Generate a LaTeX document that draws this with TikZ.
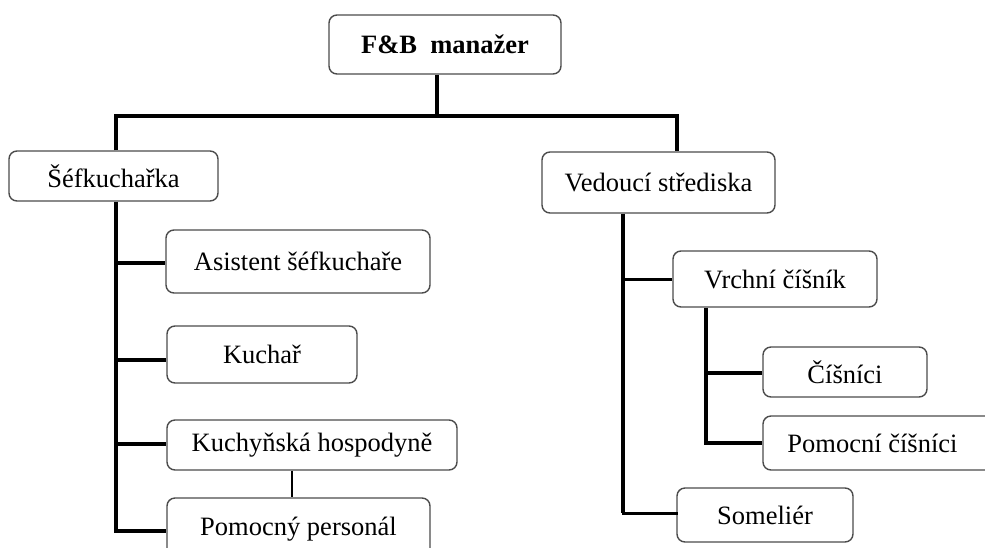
\documentclass[tikz,border=0pt]{standalone}
\usepackage{fontspec}
\setmainfont{Liberation Serif}
\begin{document}
\begin{tikzpicture}[x=1pt,y=-1pt,
  box/.style={draw=black!70,line width=1.4pt,rounded corners=8pt,fill=white,
    inner sep=0pt,font=\fontsize{26.5}{30}\selectfont},
  heavy/.style={line width=3.8pt},
  medium/.style={line width=3pt},
  light/.style={line width=2pt}]
\clip (0,0) rectangle (985,547);
\fill[white] (0,0) rectangle (985,547);

% bus and junction points
\coordinate (jL) at (116,116);
\coordinate (jM) at (437,116);
\coordinate (jR) at (677,116);
\coordinate (tL) at (116,531);
\coordinate (tR) at (623,513);
\coordinate (tW) at (706,443);

% nodes
\node[box,minimum width=232pt,minimum height=59pt] (fb) at (445,44.5) {\textbf{F\&B\ \ manažer}};
\node[box,minimum width=209pt,minimum height=50pt] (chef) at (113.5,176) {Šéfkuchařka};
\node[box,minimum width=264pt,minimum height=63pt] (asist) at (298,261.5) {Asistent šéfkuchaře};
\node[box,minimum width=190pt,minimum height=57pt] (kuchar) at (262,354.5) {Kuchař};
\node[box,minimum width=290pt,minimum height=50pt] (hosp) at (312,445) {Kuchyňská hospodyně};
\node[box,minimum width=263pt,minimum height=62pt] (pomoc) at (298.5,529) {\raisebox{3pt}{Pomocný personál}};
\node[box,minimum width=233pt,minimum height=61pt] (ved) at (658.5,182.5) {Vedoucí střediska};
\node[box,minimum width=204pt,minimum height=56pt] (vrch) at (775,279) {Vrchní číšník};
\node[box,minimum width=164pt,minimum height=50pt] (cisn) at (845,372) {Číšníci};
\node[box,minimum width=240pt,minimum height=54pt] (pomcisn) at (883,443) {\hspace*{-21pt}Pomocní číšníci};
\node[box,minimum width=176pt,minimum height=54pt] (som) at (765,515) {Someliér};

% top level
\draw[heavy] (fb.south -| jM) -- (jM);
\draw[heavy,line join=miter] (jL |- chef.north) -- (jL) -- (jR) -- (jR |- ved.north);

% kitchen branch
\draw[heavy,line join=miter] (chef.south -| jL) -- (tL) -- (pomoc.west |- tL);
\draw[heavy] (116,263) -- (asist.west |- 0,263);
\draw[heavy] (116,360) -- (kuchar.west |- 0,360);
\draw[heavy] (116,444) -- (hosp.west |- 0,444);
\draw[light] (hosp.south -| 292,0) -- (pomoc.north -| 292,0);

% service branch
\draw[heavy] (ved.south -| tR) -- (tR);
\draw[medium,line cap=rect] (tR) -- (som.west |- tR);
\draw[medium] (623,279) -- (vrch.west);
\draw[heavy,line join=miter] (vrch.south -| tW) -- (tW) -- (pomcisn.west |- tW);
\draw[heavy] (706,373) -- (cisn.west |- 0,373);
\end{tikzpicture}
\end{document}
